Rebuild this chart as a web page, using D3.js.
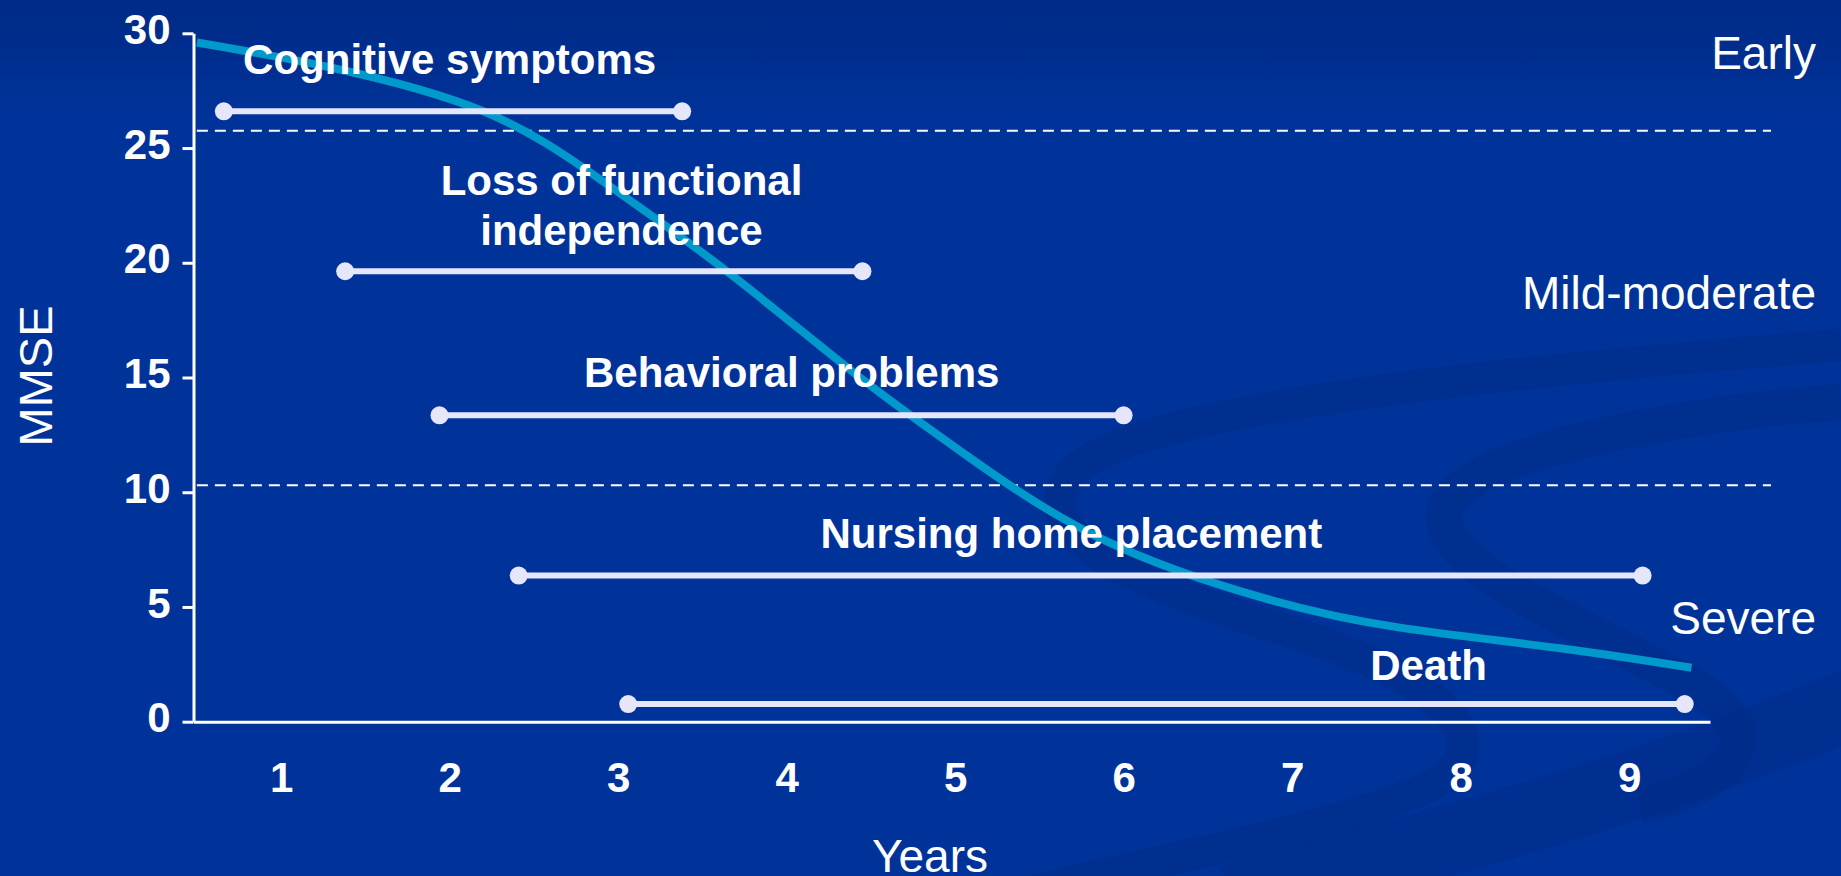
<!DOCTYPE html>
<html>
<head>
<meta charset="utf-8">
<script src="https://cdn.jsdelivr.net/npm/d3@7"></script>
<style>
  html, body { margin: 0; padding: 0; background: #003399; overflow: hidden; }
  text { font-family: "Liberation Sans", Arial, sans-serif; fill: #fff; }
</style>
</head>
<body>
<div id="chart"></div>
<script>
var width = 1841;
var height = 876;

// tick labels
var yearTicks = [1, 2, 3, 4, 5, 6, 7, 8, 9];
var mmseTicks = [0, 5, 10, 15, 20, 25, 30];

// milestones (start year, end year, MMSE level)
var milestones = ["Cognitive symptoms", "Loss of functional independence", "Behavioral problems", "Nursing home placement", "Death"];
var msStart = [0.66, 1.38, 1.94, 2.41, 3.06];
var msEnd = [3.38, 4.45, 6.0, 9.08, 9.33];
var msLevel = [26.6, 19.63, 13.35, 6.37, 0.77];

// MMSE decline curve
var curveYears = [0.5, 1.3, 2.2, 2.9, 3.65, 4.4, 5.03, 5.86, 6.85, 7.64, 8.59, 9.37];
var curveMMSE = [29.6, 28.5, 26.6, 23.6, 19.6, 15.2, 11.8, 8.0, 5.35, 4.1, 3.2, 2.35];

// stages and their cut-offs
var stageNames = ["Early", "Mild-moderate", "Severe"];
var stageCutoffs = [25.75, 10.3];

// label placement (layout only, in chart units)
var labelPos = [[2.0, 28.22], [3.02, 22.97], [4.03, 14.6], [5.69, 7.58], [7.81, 1.83]];
var labelLines = [["Cognitive symptoms"], ["Loss of functional", "independence"], ["Behavioral problems"], ["Nursing home placement"], ["Death"]];
var stagePos = [69, 309, 634];

var xScale = d3.scaleLinear().domain([0.48, 9.48]).range([193.5, 1710]);
var yScale = d3.scaleLinear().domain([0, 30]).range([721.7, 33.3]);

var svg = d3.select('#chart').append('svg')
    .attr('width', width)
    .attr('height', height);

// background
var defs = svg.append('defs');
var grad = defs.append('linearGradient').attr('id', 'bg')
    .attr('x1', 0).attr('y1', 0).attr('x2', 0).attr('y2', 1);
grad.append('stop').attr('offset', '0%').attr('stop-color', '#002a86');
grad.append('stop').attr('offset', '14%').attr('stop-color', '#00339a');
grad.append('stop').attr('offset', '100%').attr('stop-color', '#003399');
svg.append('rect').attr('width', width).attr('height', height).attr('fill', 'url(#bg)');

// decorative swooshes (background only)
var deco = svg.append('g').attr('fill', 'none').attr('stroke', '#002b88');
deco.append('path')
    .attr('d', 'M1841,345 C1600,365 1150,400 1075,470 C1020,530 1120,580 1300,635 C1440,680 1500,740 1440,780 C1380,820 1150,860 1000,900')
    .attr('stroke-width', 32).attr('opacity', 0.55);
deco.append('path')
    .attr('d', 'M1841,402 C1700,412 1460,450 1445,510 C1430,570 1600,630 1700,690 C1780,740 1720,790 1640,805')
    .attr('stroke-width', 36).attr('opacity', 0.55);
deco.append('path')
    .attr('d', 'M1230,900 C1450,840 1650,790 1860,700')
    .attr('stroke-width', 70).attr('opacity', 0.45);

// stage cut-off lines
svg.selectAll('line.cut').data(stageCutoffs)
  .enter().append('line')
    .attr('class', 'cut')
    .attr('x1', xScale(0.5))
    .attr('x2', 1771)
    .attr('y1', function (d) { return yScale(d); })
    .attr('y2', function (d) { return yScale(d); })
    .attr('stroke', '#fff')
    .attr('stroke-width', 2)
    .attr('stroke-dasharray', '11,7');

// axes
var yAxis = d3.axisLeft(yScale).tickValues(mmseTicks).tickSize(11).tickSizeOuter(0).tickPadding(12);
var xAxis = d3.axisBottom(xScale).tickValues(yearTicks).tickSize(0).tickSizeOuter(0).tickPadding(40);

var gy = svg.append('g').attr('transform', 'translate(' + xScale.range()[0] + ',0)').call(yAxis);
var gx = svg.append('g').attr('transform', 'translate(0,' + yScale(0) + ')').call(xAxis);

[gx, gy].forEach(function (g) {
    g.select('.domain').attr('stroke', '#fff').attr('stroke-width', 3);
    g.selectAll('.tick line').attr('stroke', '#fff').attr('stroke-width', 3);
    g.selectAll('.tick text')
        .attr('fill', '#fff')
        .style('font-family', '"Liberation Sans", Arial, sans-serif')
        .style('font-size', '42px')
        .style('font-weight', 'bold');
});
gy.selectAll('.tick text').attr('dy', '0.24em');

// axis titles
svg.append('text')
    .attr('transform', 'translate(52,376) rotate(-90)')
    .attr('text-anchor', 'middle')
    .style('font-size', '47px')
    .text('MMSE');
svg.append('text')
    .attr('x', 930).attr('y', 872)
    .attr('text-anchor', 'middle')
    .style('font-size', '46px')
    .text('Years');

// decline curve
var line = d3.line()
    .x(function (d) { return xScale(d[0]); })
    .y(function (d) { return yScale(d[1]); })
    .curve(d3.curveNatural);
svg.append('path')
    .datum(d3.zip(curveYears, curveMMSE))
    .attr('d', line)
    .attr('fill', 'none')
    .attr('stroke', '#0099cc')
    .attr('stroke-width', 8);

// milestone bars
var bars = svg.selectAll('g.ms').data(milestones)
  .enter().append('g').attr('class', 'ms');
bars.append('line')
    .attr('x1', function (d, i) { return xScale(msStart[i]); })
    .attr('x2', function (d, i) { return xScale(msEnd[i]); })
    .attr('y1', function (d, i) { return yScale(msLevel[i]); })
    .attr('y2', function (d, i) { return yScale(msLevel[i]); })
    .attr('stroke', '#e6e6fa')
    .attr('stroke-width', 6);
bars.append('circle')
    .attr('cx', function (d, i) { return xScale(msStart[i]); })
    .attr('cy', function (d, i) { return yScale(msLevel[i]); })
    .attr('r', 9).attr('fill', '#e6e6fa');
bars.append('circle')
    .attr('cx', function (d, i) { return xScale(msEnd[i]); })
    .attr('cy', function (d, i) { return yScale(msLevel[i]); })
    .attr('r', 9).attr('fill', '#e6e6fa');

bars.append('text')
    .attr('x', function (d, i) { return xScale(labelPos[i][0]); })
    .attr('y', function (d, i) { return yScale(labelPos[i][1]); })
    .attr('text-anchor', 'middle')
    .style('font-size', '42px')
    .style('font-weight', 'bold')
    .each(function (d, i) {
        var t = d3.select(this);
        labelLines[i].forEach(function (s, k) {
            t.append('tspan')
                .attr('x', xScale(labelPos[i][0]))
                .attr('dy', k === 0 ? 0 : 50.7)
                .text(s);
        });
    });

// stage labels
svg.selectAll('text.stage').data(stageNames)
  .enter().append('text')
    .attr('class', 'stage')
    .attr('x', 1816)
    .attr('y', function (d, i) { return stagePos[i]; })
    .attr('text-anchor', 'end')
    .style('font-size', '46px')
    .text(function (d) { return d; });
</script>
</body>
</html>
